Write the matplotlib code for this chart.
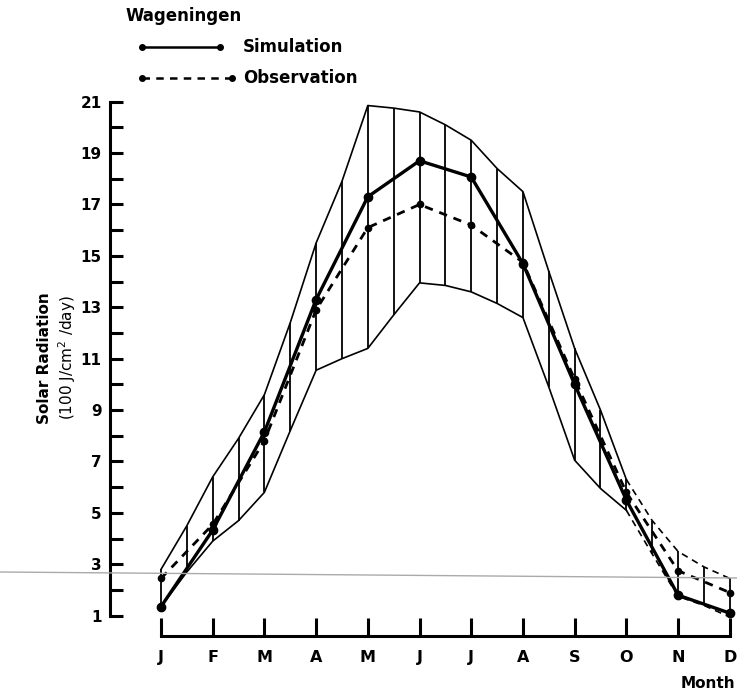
import numpy as np
import matplotlib
matplotlib.use("Agg")
import matplotlib.pyplot as plt
from matplotlib.lines import Line2D

months = ['J', 'F', 'M', 'A', 'M', 'J', 'J', 'A', 'S', 'O', 'N', 'D']
simulation = [1.35, 4.33, 8.15, 13.3, 17.3, 18.7, 18.07, 14.7, 10.0, 5.5, 1.8, 1.1]
observation = [2.45, 4.55, 7.8, 12.9, 16.1, 17.0, 16.2, 14.75, 10.2, 5.8, 2.75, 1.9]
# semi-monthly envelope (J, mid J-F, F, ..., D)
upper = [2.8, 4.5, 6.4, 7.9, 9.6, 12.4, 15.5, 17.9, 20.85, 20.75, 20.6, 20.1,
         19.5, 18.4, 17.5, 14.4, 11.4, 9.0, 6.3, 4.7, 3.5, 2.9, 2.45]
lower = [1.35, 2.7, 3.9, 4.7, 5.8, 8.2, 10.55, 11.0, 11.4, 12.7, 13.95, 13.85,
         13.6, 13.15, 12.6, 9.9, 7.05, 5.95, 5.1, 3.4, 1.75, 1.4, 0.95]
yticks = [1, 3, 5, 7, 9, 11, 13, 15, 17, 19, 21]

fig = plt.figure(figsize=(7.37, 6.97), dpi=100)
ax = fig.add_axes([110/737, 1-636/697, 627/737, (636-95)/697])

xm = np.arange(len(months))
xh = np.arange(len(upper)) / 2.0
k = 18  # October index in semi-monthly series

# envelopes
ax.plot(xh[:k+1], upper[:k+1], color='black', lw=1.2)
ax.plot(xh[:k+1], lower[:k+1], color='black', lw=1.2)
ax.plot(xh[k:], upper[k:], color='black', lw=1.2, ls=(0, (4, 3)))
ax.plot(xh[k:], lower[k:], color='black', lw=1.2, ls=(0, (4, 3)))
ax.vlines(xh, lower, upper, color='black', lw=1.3)

# series
ax.plot(xm, simulation, color='black', lw=2.4, marker='o', ms=6)
ax.plot(xm, observation, color='black', lw=2.0, ls=(0, (3, 2.5)), marker='o', ms=4.5)

ax.set_xlim(-0.986, 11.14)
ax.set_ylim(0.21, 21.26)

for s in ['top', 'right']:
    ax.spines[s].set_visible(False)
ax.spines['left'].set_bounds(1, 21)
ax.spines['bottom'].set_bounds(0, 11)
ax.spines['left'].set_linewidth(2.2)
ax.spines['bottom'].set_linewidth(2.2)

ax.set_yticks(yticks)
ax.set_yticks(np.arange(2, 21, 2), minor=True)
ax.set_xticks(xm)
ax.set_xticklabels(months)
ax.tick_params(axis='y', which='both', direction='in', length=9, width=2.2, pad=6,
               labelsize=11)
ax.tick_params(axis='x', direction='in', length=13, width=2.2, pad=10, labelsize=11.5)
for lab in ax.get_xticklabels() + ax.get_yticklabels():
    lab.set_fontweight('bold')

fig.text(735/737, 1-684/697, 'Month', fontsize=11, fontweight='bold', ha='right', va='center')
fig.text(45/737, 1-358/697, 'Solar Radiation', rotation=90, fontsize=11,
         fontweight='bold', ha='center', va='center')
fig.text(67/737, 1-358/697, '(100 J/cm$^2$ /day)', rotation=90, fontsize=11,
         ha='center', va='center')

# legend
fig.text(125/737, 1-16/697, 'Wageningen', fontsize=12, fontweight='bold', ha='left', va='center')
fig.add_artist(Line2D([142/737, 220/737], [1-47/697, 1-47/697], color='black', lw=1.8,
                      marker='o', ms=4, markevery=[0, 1]))
fig.text(243/737, 1-47/697, 'Simulation', fontsize=12, fontweight='bold', ha='left', va='center')
fig.add_artist(Line2D([142/737, 232/737], [1-78/697, 1-78/697], color='black', lw=1.8,
                      ls=(0, (3, 2.5)), marker='o', ms=4, markevery=[0, 1]))
fig.text(243/737, 1-78/697, 'Observation', fontsize=12, fontweight='bold', ha='left', va='center')

# faint scan line across the page
fig.add_artist(Line2D([0, 1], [1-572/697, 1-578/697], color='#aaaaaa', lw=1.0))

fig.savefig('out.png', dpi=100)
